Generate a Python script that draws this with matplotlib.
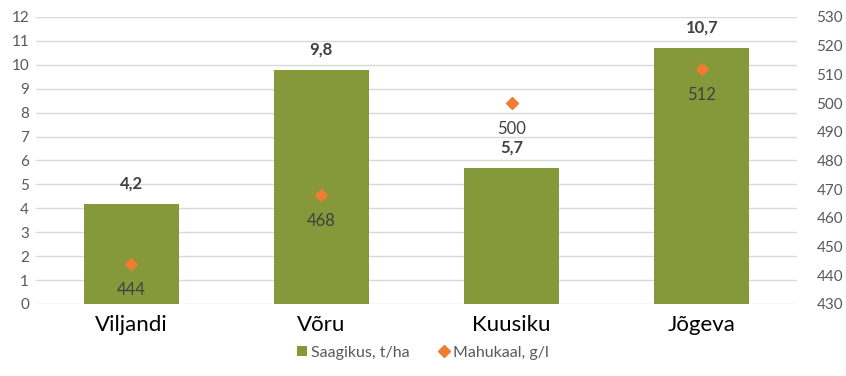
import matplotlib.pyplot as plt
import numpy as np

plt.rcParams['font.family'] = ['Lato', 'DejaVu Sans']

places = ["Viljandi", "Võru", "Kuusiku", "Jõgeva"]
saagikus = [4.2, 9.8, 5.7, 10.7]
mahukaal = [444, 468, 500, 512]

bar_col = '#85993A'
dot_col = '#ED7D31'
txt_col = '#404040'
tick_col = '#595959'

fig = plt.figure(figsize=(8.46, 3.76), dpi=100)
ax = fig.add_axes([0.0426, 0.1915, 0.8994, 0.7633])
ax2 = ax.twinx()

x = np.arange(len(places))
bars = ax.bar(x, saagikus, width=0.5, color=bar_col, zorder=2, label='Saagikus, t/ha')
ax.set_xlim(-0.5, 3.5)
ax.set_ylim(0, 12)
ax.set_yticks(range(0, 13))
ax.grid(axis='y', color='#D9D9D9', lw=1, zorder=0)
ax.set_axisbelow(True)
ax.set_xticks(x)
ax.set_xticklabels(places, fontsize=16, color='black')
ax.tick_params(axis='both', length=0)
ax.tick_params(axis='x', pad=8)
ax.tick_params(axis='y', labelsize=11, labelcolor=tick_col, pad=5)
for s in ax.spines.values():
    s.set_visible(False)

for xi, v in zip(x, saagikus):
    ax.annotate(f"{v:.1f}".replace('.', ','), (xi, v), xytext=(0, 9), textcoords='offset points',
                ha='center', va='bottom', fontsize=12, fontweight='bold', color=txt_col)

ax2.plot(x, mahukaal, linestyle='none', marker='D', markersize=6.5, color=dot_col, zorder=3,
         label='Mahukaal, g/l')
ax2.set_ylim(430, 530)
ax2.set_yticks(range(430, 531, 10))
ax2.tick_params(axis='y', length=0, labelsize=11, labelcolor=tick_col, pad=14)
for s in ax2.spines.values():
    s.set_visible(False)
for xi, v in zip(x, mahukaal):
    ax2.annotate(str(v), (xi, v), xytext=(0, -13), textcoords='offset points',
                 ha='center', va='top', fontsize=12, color=txt_col)

h1, l1 = ax.get_legend_handles_labels()
h2, l2 = ax2.get_legend_handles_labels()
fig.legend(h1 + h2, l1 + l2, loc='center', bbox_to_anchor=(0.5, 0.062), ncol=2, frameon=False,
           fontsize=11.5, labelcolor=tick_col, handlelength=0.6, handleheight=0.6,
           handletextpad=0.3, columnspacing=1.8)

fig.savefig('out.png', dpi=100)
